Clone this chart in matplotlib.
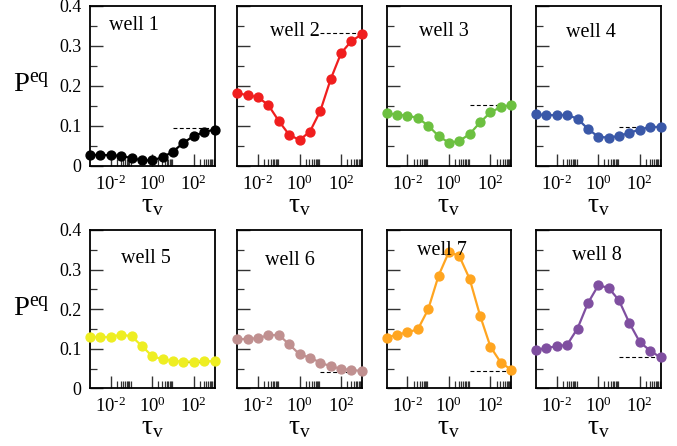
import numpy as np
import matplotlib
matplotlib.use("Agg")
import matplotlib.pyplot as plt
from matplotlib.ticker import FixedLocator, NullFormatter

plt.rcParams['font.family'] = ['Liberation Serif', 'DejaVu Serif']
plt.rcParams['mathtext.fontset'] = 'custom'
plt.rcParams['mathtext.rm'] = 'Liberation Serif'
plt.rcParams['mathtext.it'] = 'Liberation Serif:italic'
plt.rcParams['mathtext.default'] = 'rm'

# ---- data ----
tau_exponents = [-3, -2.5, -2, -1.5, -1, -0.5, 0, 0.5, 1, 1.5, 2, 2.5, 3]
well_names = ["well 1", "well 2", "well 3", "well 4", "well 5", "well 6", "well 7", "well 8"]
well1 = [0.0275, 0.0275, 0.027, 0.025, 0.020, 0.014, 0.014, 0.022, 0.036, 0.058, 0.075, 0.085, 0.091]
well2 = [0.182, 0.177, 0.172, 0.152, 0.1125, 0.078, 0.065, 0.086, 0.1375, 0.217, 0.282, 0.3125, 0.329]
well3 = [0.132, 0.128, 0.126, 0.120, 0.101, 0.075, 0.058, 0.0625, 0.080, 0.109, 0.134, 0.1475, 0.1525]
well4 = [0.129, 0.1275, 0.127, 0.128, 0.118, 0.093, 0.073, 0.071, 0.075, 0.083, 0.091, 0.097, 0.098]
well5 = [0.1305, 0.129, 0.130, 0.1355, 0.1315, 0.107, 0.081, 0.0735, 0.069, 0.0675, 0.0675, 0.0685, 0.0685]
well6 = [0.1245, 0.1245, 0.127, 0.134, 0.135, 0.111, 0.086, 0.0775, 0.065, 0.0555, 0.0495, 0.046, 0.044]
well7 = [0.128, 0.1356, 0.1415, 0.149, 0.1996, 0.2846, 0.345, 0.334, 0.276, 0.1836, 0.105, 0.065, 0.047]
well8 = [0.097, 0.102, 0.106, 0.110, 0.151, 0.215, 0.260, 0.254, 0.222, 0.165, 0.117, 0.095, 0.078]
series = [well1, well2, well3, well4, well5, well6, well7, well8]
asymptotes = [0.096, 0.332, 0.152, 0.098, 0.0675, 0.041, 0.044, 0.080]
asymptote_range = [1e1, 1e3]
colors = ["#000000", "#f01e1e", "#6cc040", "#3a58a8", "#eeee22", "#c09090", "#ffa520", "#7f4fa0"]
xtick_exponents = [-2, 0, 2]
ytick_values = [0, 0.1, 0.2, 0.3, 0.4]
ytick_labels = ["0", "0.1", "0.2", "0.3", "0.4"]
label_pos = [(0.35, 0.340), (0.466, 0.325), (0.456, 0.325), (0.444, 0.323),
             (0.45, 0.316), (0.426, 0.311), (0.446, 0.337), (0.49, 0.324)]

tau = [10.0 ** e for e in tau_exponents]

W, H = 677, 446
fig = plt.figure(figsize=(W / 100, H / 100), dpi=100)

lefts = [90, 237.3, 386.7, 536]
rows = [(6, 166), (230, 388.3)]
aw = 124.5

major_x = [10.0 ** e for e in xtick_exponents]
minor_x = [m * 10.0 ** e for e in xtick_exponents for m in range(2, 10)]


def exp_label(e):
    s = str(e).replace('-', r'\text{-}')
    return r'$10^{%s}$' % s


for i in range(8):
    r, c = divmod(i, 4)
    top, bot = rows[r]
    ax = fig.add_axes([lefts[c] / W, (H - bot) / H, aw / W, (bot - top) / H])
    ax.set_xscale('log')
    ax.set_xlim(1e-3, 1e3)
    ax.set_ylim(0, 0.4)
    ax.plot(tau, series[i], '-o', color=colors[i], lw=1.6, ms=6.4, clip_on=False, zorder=3)
    ax.plot(asymptote_range, [asymptotes[i]] * 2, '--', color='black', lw=0.8,
            dashes=(3.5, 2.2), zorder=2)
    ax.xaxis.set_major_locator(FixedLocator(major_x))
    ax.xaxis.set_minor_locator(FixedLocator(minor_x))
    ax.set_xticklabels([exp_label(e) for e in xtick_exponents])
    ax.xaxis.set_minor_formatter(NullFormatter())
    ax.set_yticks(ytick_values)
    ax.set_yticks(np.arange(0.05, 0.4, 0.1), minor=True)
    if c == 0:
        ax.set_yticklabels(ytick_labels)
        ax.text(-0.47, 0.5, r'P$^{\mathrm{eq}}$', transform=ax.transAxes,
                ha='center', va='center', fontsize=20.5)
    else:
        ax.set_yticklabels([])
    ax.tick_params(axis='x', which='both', direction='in', top=False, labelsize=13.5, pad=6)
    ax.tick_params(axis='y', which='both', direction='in', right=False, labelsize=13, pad=6)
    ax.tick_params(which='major', length=9, width=1.0, color='#333333')
    ax.tick_params(which='minor', length=5, width=0.9, color='#333333')
    for s in ax.spines.values():
        s.set_linewidth(1.3)
    ax.text(0.5, -0.29, r'τ$_{\mathrm{v}}$', transform=ax.transAxes,
            ha='center', va='baseline', fontsize=20)
    lx, ly = label_pos[i]
    ax.text(lx, ly, well_names[i], transform=ax.get_yaxis_transform(),
            ha='center', va='baseline', fontsize=14.5)

fig.savefig("out.png", dpi=100)
